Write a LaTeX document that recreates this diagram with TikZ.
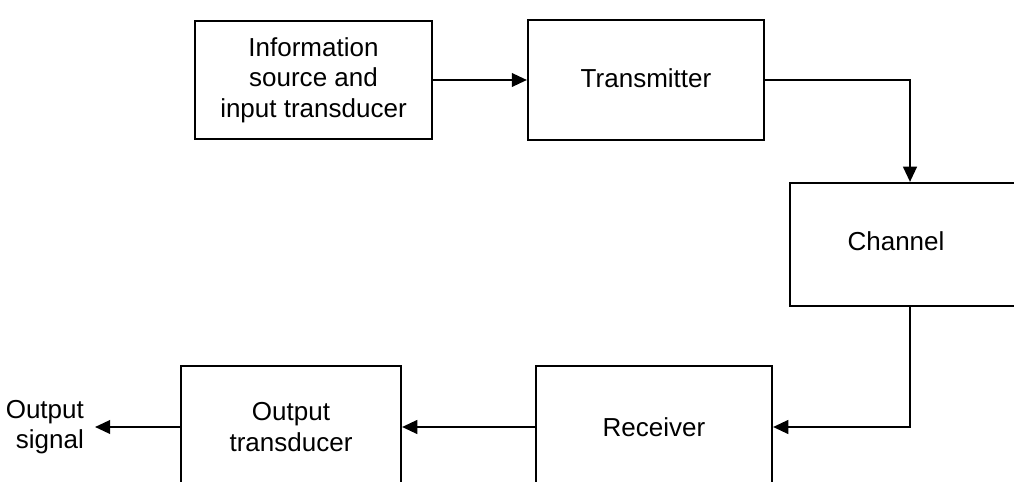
\documentclass[tikz,border=0pt]{standalone}
\usepackage{fontspec}
\setmainfont{Liberation Sans}
\usetikzlibrary{arrows.meta}

\tikzset{
    block/.style={draw, line width=1.5pt, align=center, inner sep=0pt,
        font=\fontsize{18.5}{21.8}\selectfont},
    sigtext/.style={align=right, inner sep=0.25cm,
        font=\fontsize{18.5}{21.8}\selectfont}
}

\begin{document}
\begin{tikzpicture}[>={Triangle[length=0.38cm, width=0.34cm]}, line width=1.6pt]
    % Khung hình
    \useasboundingbox (0,0) rectangle (25.35,-12.05);
    \clip (0,0) rectangle (25.35,-12.05);

    % Các khối phía trên
    \node[block, minimum width=5.925cm, minimum height=2.95cm] (src) at (7.8375,-2.0)
        {Information\\source and\\input transducer};
    \node[block, minimum width=5.9cm, minimum height=3.0cm] (tx) at (16.15,-2.0)
        {\raisebox{0.1cm}{Transmitter}};
    \node[block, minimum width=6cm, minimum height=3.075cm,
        label={[xshift=-0.35cm, yshift=0.09cm, font=\fontsize{18.5}{21.8}\selectfont]center:Channel}]
        (channel) at (22.75,-6.1125) {};

    % Các khối phía dưới
    \node[block, minimum width=5.9cm, minimum height=3.05cm] (rx) at (16.35,-10.675)
        {Receiver};
    \node[block, minimum width=5.5cm, minimum height=3.05cm] (out) at (7.275,-10.675)
        {Output\\transducer};
    \node[sigtext, anchor=east] (sig) at (2.375,-10.675) {Output\\signal};

    % Mũi tên
    \draw[->] (src) -- (tx);
    \draw[->] (tx.east) -| (channel.north);
    \draw[->] (channel.south) |- (rx.east);
    \draw[->] (rx) -- (out);
    \draw[->] (out) -- (sig);
\end{tikzpicture}
\end{document}
